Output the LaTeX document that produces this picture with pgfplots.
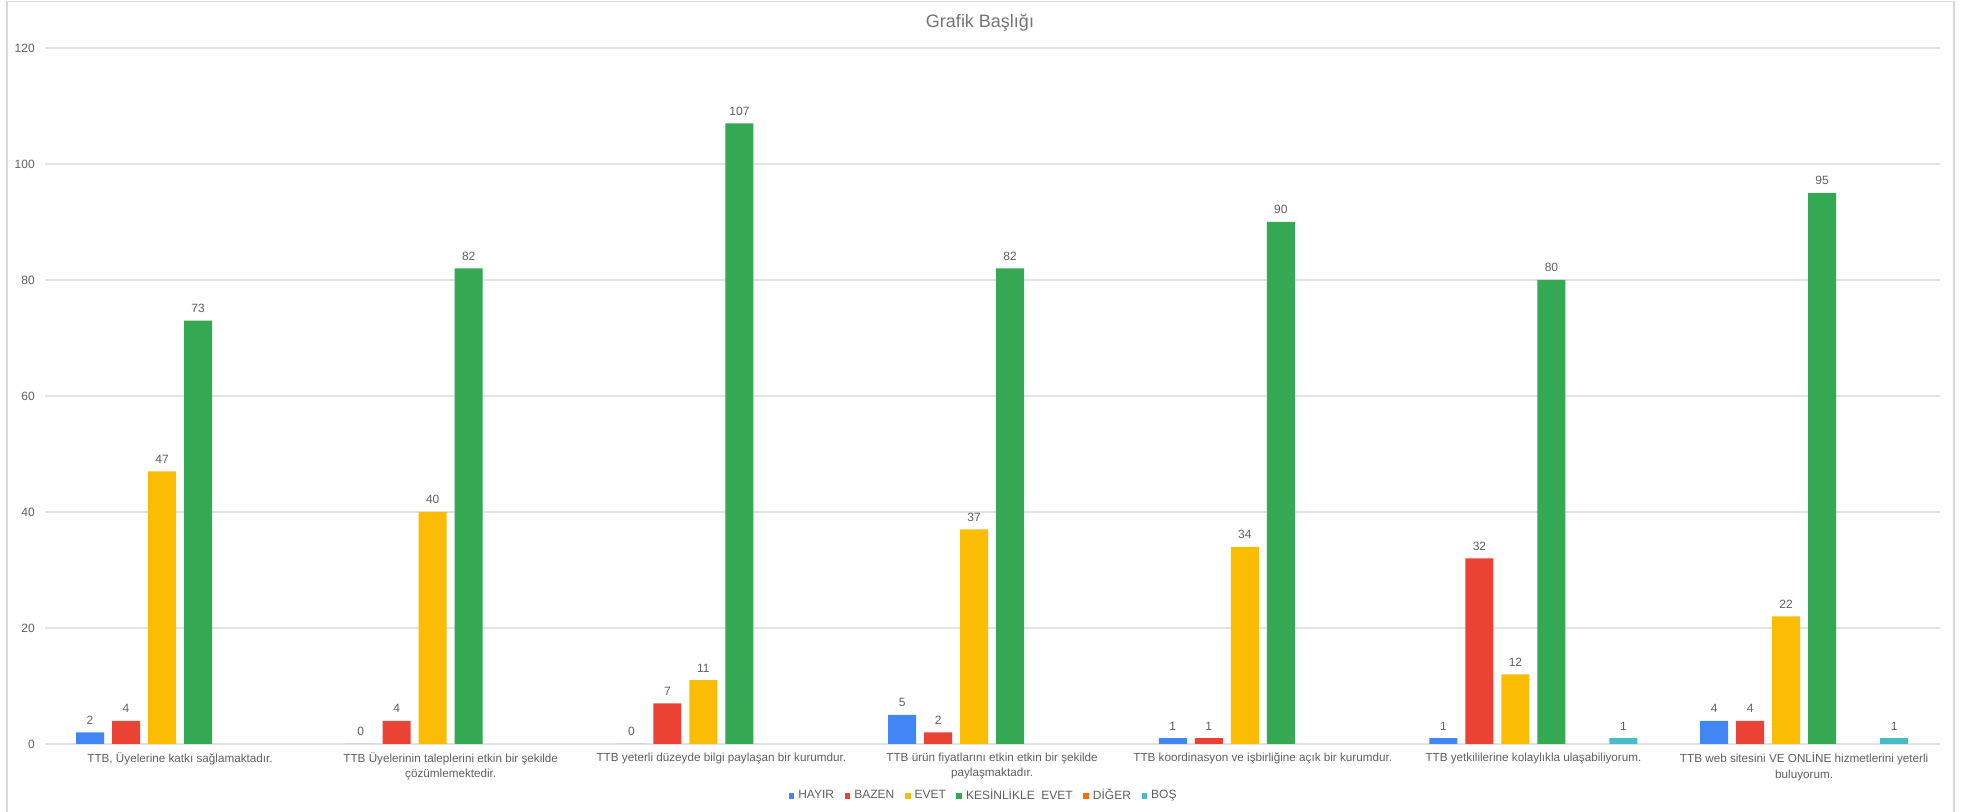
\documentclass[border=0pt]{standalone}
\usepackage{fontspec}
\setmainfont{Liberation Sans}
\usepackage{pgfplots}
\pgfplotsset{compat=1.18}
\definecolor{cBlue}{HTML}{4285F4}
\definecolor{cRed}{HTML}{EA4335}
\definecolor{cYellow}{HTML}{FBBC04}
\definecolor{cGreen}{HTML}{34A853}
\definecolor{cOrange}{HTML}{FF6D01}
\definecolor{cTeal}{HTML}{46BDC6}
\definecolor{txtgray}{HTML}{5F5F5F}
\definecolor{titlegray}{HTML}{757575}
\definecolor{gridgray}{HTML}{E3E3E3}
\definecolor{framegray}{HTML}{D9D9D9}
\pgfplotsset{
  bars/.style={draw=none, fill=#1,
    legend image code/.code={\fill[fill=#1] (0pt,-1.4pt) rectangle (2.8pt,1.4pt);}},
}
\begin{document}
\begin{tikzpicture}
\path[use as bounding box] (0,0) rectangle (990.5pt,406pt);
\draw[framegray, line width=0.6pt] (3.5pt,-10pt) rectangle (977pt,405.3pt);
\node[anchor=base, font=\fontsize{9}{11}\selectfont, text=titlegray] at (490pt,392pt) {Grafik Başlığı};
\begin{axis}[
  at={(22.35pt,34pt)}, anchor=south west,
  scale only axis, width=947.4pt, height=348pt,
  ybar=0pt, bar width=14pt,
  xmin=-0.5, xmax=6.5, ymin=0, ymax=120,
  ytick={0,20,40,60,80,100,120},
  xtick={0,1,2,3,4,5,6},
  xticklabels={
    {TTB, Üyelerine katkı sağlamaktadır.},
    {TTB Üyelerinin taleplerini etkin bir şekilde\\çözümlemektedir.},
    {TTB yeterli düzeyde bilgi paylaşan bir kurumdur.},
    {TTB ürün fiyatlarını etkin etkin bir şekilde\\paylaşmaktadır.},
    {TTB koordinasyon ve işbirliğine açık bir kurumdur.},
    {TTB yetkililerine kolaylıkla ulaşabiliyorum.},
    {TTB web sitesini VE ONLİNE hizmetlerini yeterli\\buluyorum.}},
  axis line style={draw=none},
  major tick length=0pt,
  ymajorgrids, grid style={gridgray, line width=0.6pt},
  /pgf/number format/assume math mode=true,
  tick label style={font=\fontsize{6}{7.5}\selectfont, text=txtgray},
  xticklabel style={font=\fontsize{5.85}{7.7}\selectfont, anchor=north, align=center, inner sep=0pt, yshift=-4.2pt},
  yticklabel style={anchor=east, inner sep=0pt, xshift=-4.8pt},
  nodes near coords,
  every node near coord/.append style={font=\fontsize{6}{7}\selectfont, text=txtgray, anchor=south, inner sep=0pt, yshift=3.8pt},
  legend columns=6,
  legend style={at={(0.495,-0.0747)}, anchor=center, draw=none, fill=none, inner sep=0pt,
    font=\fontsize{6}{7}\selectfont, text=txtgray,
    nodes={inner sep=0pt},
    column sep=0pt,
    /tikz/every odd column/.append style={column sep=2pt},
    /tikz/every even column/.append style={column sep=5.3pt}},
  clip=false,
]
\addplot[bars=cBlue, bar shift=-45pt] coordinates {(0,2) (1,0) (2,0) (3,5) (4,1) (5,1) (6,4)};
\addlegendentry{HAYIR}
\addplot[bars=cRed, bar shift=-27pt] coordinates {(0,4) (1,4) (2,7) (3,2) (4,1) (5,32) (6,4)};
\addlegendentry{BAZEN}
\addplot[bars=cYellow, bar shift=-9pt] coordinates {(0,47) (1,40) (2,11) (3,37) (4,34) (5,12) (6,22)};
\addlegendentry{EVET}
\addplot[bars=cGreen, bar shift=9pt] coordinates {(0,73) (1,82) (2,107) (3,82) (4,90) (5,80) (6,95)};
\addlegendentry{KESİNLİKLE\ \ EVET}
\addlegendimage{bars=cOrange}
\addlegendentry{DİĞER}
\addplot[bars=cTeal, bar shift=45pt] coordinates {(5,1) (6,1)};
\addlegendentry{BOŞ}
\end{axis}
\end{tikzpicture}
\end{document}
